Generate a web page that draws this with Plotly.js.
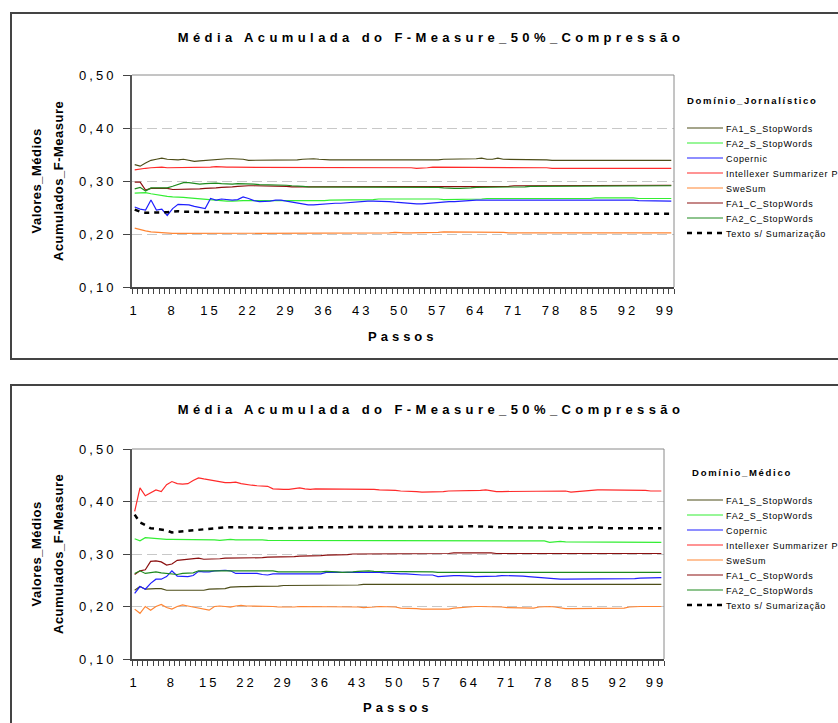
<!DOCTYPE html>
<html><head><meta charset="utf-8">
<script src="https://cdn.plot.ly/plotly-3.0.1.min.js"></script>
<style>
html,body{margin:0;padding:0;background:#fff;width:838px;height:723px;overflow:hidden;position:relative;}
.box{position:absolute;box-sizing:border-box;border:2px solid #444;}
#b1{left:10px;top:12px;width:900px;height:348px;}
#b2{left:10px;top:384px;width:900px;height:420px;}
.chart{position:absolute;left:0;width:838px;}
#c1{top:0;height:360px;}
#c2{top:360px;height:363px;}
.gtitle{letter-spacing:4.4px;}
.xtick text,.ytick text{letter-spacing:3px;}
.legendtext{letter-spacing:0.7px;}
.annotation[data-index="0"] text,.annotation[data-index="1"] text{letter-spacing:0.5px;}
.annotation[data-index="2"] text{letter-spacing:4px;}
.annotation[data-index="3"] text{letter-spacing:1.7px;}
</style></head>
<body>
<div class="box" id="b1"></div>
<div class="box" id="b2"></div>
<div class="chart" id="c1"></div>
<div class="chart" id="c2"></div>
<script>
// ---------- data ----------
const passos = Array.from({length:100},(_,i)=>i+1);
const tickVals = [1,8,15,22,29,36,43,50,57,64,71,78,85,92,99];
const tickText = ['1','8','15','22','29','36','43','50','57','64','71','78','85','92','99'];
const seriesNames = ['FA1_S_StopWords','FA2_S_StopWords','Copernic','Intellexer Summarizer Pro','SweSum','FA1_C_StopWords','FA2_C_StopWords','Texto s/ Sumarização'];
const chartTitle = 'Média Acumulada do F-Measure_50%_Compressão';
const legendTitle1 = 'Domínio_Jornalístico';
const legendTitle2 = 'Domínio_Médico';

// Domínio Jornalístico
const jFA1S = [
0.331,0.328,0.334,0.339,0.341,0.343,0.341,0.340,0.340,0.341,
0.339,0.337,0.338,0.339,0.340,0.341,0.342,0.342,0.342,0.342,
0.341,0.339,0.339,0.339,0.339,0.339,0.340,0.340,0.340,0.340,
0.340,0.341,0.342,0.342,0.341,0.340,0.340,0.340,0.340,0.339,
0.339,0.339,0.340,0.340,0.340,0.340,0.340,0.340,0.339,0.340,
0.340,0.340,0.340,0.340,0.340,0.340,0.340,0.341,0.341,0.341,
0.341,0.341,0.341,0.342,0.343,0.341,0.341,0.343,0.341,0.341,
0.341,0.341,0.341,0.341,0.341,0.341,0.340,0.339,0.339,0.339,
0.339,0.340,0.340,0.340,0.340,0.339,0.339,0.339,0.339,0.339,
0.339,0.339,0.339,0.339,0.339,0.339,0.339,0.339,0.339,0.339];
const jFA2S = [
0.277,0.278,0.278,0.276,0.274,0.273,0.271,0.270,0.270,0.269,
0.268,0.267,0.266,0.265,0.264,0.263,0.263,0.262,0.262,0.263,
0.263,0.263,0.263,0.262,0.262,0.262,0.262,0.262,0.262,0.262,
0.262,0.262,0.262,0.262,0.263,0.263,0.264,0.264,0.264,0.264,
0.265,0.265,0.265,0.265,0.265,0.266,0.266,0.266,0.266,0.266,
0.267,0.267,0.267,0.267,0.267,0.266,0.266,0.265,0.265,0.265,
0.265,0.265,0.265,0.266,0.266,0.267,0.267,0.267,0.267,0.267,
0.267,0.267,0.266,0.266,0.267,0.267,0.267,0.267,0.267,0.267,
0.267,0.267,0.267,0.267,0.267,0.268,0.268,0.268,0.268,0.269,
0.269,0.269,0.268,0.267,0.267,0.267,0.267,0.267,0.267,0.267];
const jCop = [
0.251,0.247,0.245,0.264,0.245,0.247,0.235,0.248,0.256,0.255,
0.255,0.252,0.250,0.248,0.267,0.264,0.266,0.265,0.264,0.265,
0.270,0.267,0.263,0.261,0.261,0.262,0.264,0.264,0.262,0.260,
0.258,0.257,0.255,0.255,0.256,0.257,0.258,0.258,0.258,0.259,
0.260,0.261,0.262,0.262,0.262,0.262,0.261,0.261,0.260,0.259,
0.258,0.258,0.257,0.257,0.258,0.259,0.260,0.261,0.261,0.261,
0.262,0.263,0.264,0.264,0.264,0.264,0.264,0.264,0.264,0.264,
0.264,0.264,0.264,0.264,0.264,0.264,0.264,0.264,0.264,0.264,
0.264,0.264,0.264,0.265,0.265,0.265,0.265,0.264,0.264,0.264,
0.264,0.264,0.264,0.263,0.263,0.262,0.262,0.262,0.262,0.262];
const jInt = [
0.321,0.323,0.324,0.325,0.326,0.326,0.325,0.325,0.326,0.326,
0.326,0.326,0.326,0.326,0.326,0.327,0.326,0.326,0.326,0.326,
0.326,0.326,0.326,0.326,0.326,0.326,0.326,0.326,0.326,0.326,
0.326,0.326,0.326,0.326,0.326,0.326,0.326,0.326,0.326,0.326,
0.326,0.326,0.326,0.326,0.326,0.326,0.326,0.326,0.326,0.326,
0.326,0.325,0.324,0.324,0.325,0.326,0.326,0.326,0.326,0.326,
0.326,0.326,0.326,0.326,0.326,0.326,0.326,0.326,0.326,0.326,
0.326,0.326,0.326,0.326,0.326,0.326,0.325,0.324,0.324,0.324,
0.324,0.324,0.324,0.324,0.324,0.324,0.324,0.324,0.324,0.324,
0.324,0.324,0.324,0.324,0.324,0.324,0.324,0.324,0.324,0.324];
const jSwe = [
0.211,0.208,0.206,0.204,0.203,0.202,0.201,0.201,0.201,0.201,
0.201,0.201,0.201,0.202,0.202,0.202,0.202,0.202,0.202,0.202,
0.201,0.201,0.201,0.201,0.201,0.202,0.202,0.202,0.202,0.202,
0.202,0.202,0.202,0.202,0.202,0.202,0.202,0.202,0.202,0.202,
0.202,0.202,0.202,0.202,0.202,0.202,0.202,0.202,0.203,0.202,
0.202,0.202,0.202,0.202,0.202,0.202,0.203,0.204,0.204,0.204,
0.204,0.203,0.203,0.203,0.203,0.203,0.203,0.204,0.203,0.202,
0.202,0.202,0.202,0.202,0.202,0.202,0.202,0.202,0.202,0.202,
0.202,0.202,0.202,0.202,0.202,0.202,0.202,0.202,0.202,0.202,
0.202,0.202,0.202,0.202,0.202,0.202,0.202,0.202,0.202,0.202];
const jFA1C = [
0.298,0.298,0.283,0.286,0.286,0.286,0.286,0.284,0.284,0.284,
0.285,0.285,0.285,0.286,0.286,0.287,0.288,0.288,0.289,0.290,
0.291,0.291,0.291,0.291,0.290,0.290,0.290,0.290,0.290,0.289,
0.289,0.289,0.289,0.289,0.289,0.289,0.289,0.289,0.289,0.289,
0.289,0.289,0.289,0.289,0.289,0.289,0.289,0.289,0.289,0.289,
0.289,0.289,0.289,0.289,0.289,0.290,0.290,0.290,0.290,0.290,
0.290,0.290,0.290,0.290,0.290,0.290,0.290,0.290,0.290,0.290,
0.291,0.291,0.291,0.291,0.291,0.291,0.291,0.292,0.292,0.292,
0.292,0.292,0.292,0.292,0.292,0.292,0.292,0.292,0.292,0.292,
0.292,0.292,0.292,0.292,0.292,0.292,0.292,0.292,0.292,0.292];
const jFA2C = [
0.285,0.288,0.281,0.287,0.287,0.287,0.287,0.290,0.294,0.297,
0.297,0.295,0.294,0.295,0.296,0.296,0.295,0.294,0.294,0.295,
0.295,0.294,0.294,0.293,0.293,0.293,0.292,0.292,0.292,0.291,
0.291,0.290,0.289,0.289,0.289,0.288,0.288,0.288,0.288,0.288,
0.288,0.288,0.288,0.289,0.289,0.289,0.288,0.288,0.288,0.288,
0.288,0.288,0.288,0.288,0.288,0.288,0.288,0.287,0.286,0.286,
0.286,0.286,0.287,0.288,0.288,0.289,0.289,0.289,0.289,0.289,
0.289,0.289,0.289,0.290,0.290,0.290,0.290,0.290,0.290,0.291,
0.291,0.291,0.291,0.291,0.291,0.291,0.291,0.291,0.291,0.291,
0.291,0.291,0.291,0.291,0.291,0.291,0.291,0.291,0.291,0.291];
const jTxt = [
0.246,0.242,0.240,0.240,0.241,0.241,0.241,0.242,0.243,0.242,
0.242,0.242,0.241,0.241,0.241,0.241,0.241,0.241,0.240,0.240,
0.240,0.240,0.240,0.240,0.240,0.240,0.240,0.240,0.240,0.240,
0.239,0.239,0.239,0.239,0.239,0.239,0.239,0.239,0.239,0.239,
0.239,0.239,0.239,0.239,0.239,0.239,0.239,0.239,0.239,0.239,
0.238,0.238,0.238,0.238,0.238,0.238,0.238,0.238,0.238,0.238,
0.238,0.238,0.238,0.238,0.238,0.238,0.238,0.238,0.238,0.238,
0.238,0.238,0.238,0.238,0.238,0.238,0.238,0.238,0.238,0.238,
0.238,0.238,0.238,0.238,0.238,0.238,0.238,0.238,0.238,0.238,
0.238,0.238,0.238,0.238,0.238,0.238,0.238,0.238,0.238,0.238];

// Domínio Médico
const mFA1S = [
0.231,0.238,0.233,0.234,0.234,0.234,0.231,0.231,0.231,0.231,
0.231,0.231,0.231,0.231,0.233,0.233,0.233,0.234,0.237,0.238,
0.238,0.238,0.238,0.238,0.238,0.238,0.239,0.239,0.240,0.240,
0.240,0.241,0.241,0.241,0.241,0.241,0.241,0.241,0.241,0.241,
0.241,0.241,0.241,0.242,0.242,0.242,0.242,0.242,0.242,0.242,
0.242,0.242,0.242,0.242,0.242,0.242,0.241,0.242,0.242,0.242,
0.242,0.242,0.242,0.241,0.242,0.242,0.242,0.241,0.242,0.242,
0.242,0.242,0.242,0.242,0.242,0.242,0.242,0.242,0.242,0.242,
0.242,0.242,0.242,0.242,0.242,0.242,0.242,0.242,0.242,0.242,
0.242,0.242,0.242,0.242,0.242,0.242,0.242,0.242,0.242,0.242];
const mFA2S = [
0.329,0.325,0.331,0.330,0.329,0.328,0.328,0.328,0.328,0.328,
0.327,0.327,0.327,0.327,0.328,0.327,0.326,0.327,0.328,0.327,
0.327,0.327,0.327,0.328,0.327,0.326,0.326,0.326,0.326,0.326,
0.326,0.326,0.326,0.326,0.326,0.326,0.326,0.326,0.326,0.326,
0.326,0.326,0.326,0.326,0.326,0.326,0.326,0.326,0.326,0.326,
0.325,0.325,0.325,0.325,0.325,0.325,0.325,0.325,0.325,0.325,
0.325,0.325,0.325,0.325,0.325,0.325,0.325,0.325,0.325,0.325,
0.325,0.325,0.325,0.325,0.325,0.325,0.325,0.325,0.322,0.323,
0.324,0.323,0.323,0.323,0.323,0.323,0.323,0.323,0.323,0.323,
0.323,0.323,0.323,0.323,0.323,0.323,0.323,0.322,0.322,0.322];
const mCop = [
0.225,0.238,0.233,0.244,0.252,0.252,0.257,0.268,0.258,0.257,
0.257,0.259,0.267,0.266,0.266,0.268,0.269,0.269,0.268,0.263,
0.263,0.263,0.263,0.263,0.261,0.260,0.262,0.262,0.262,0.263,
0.263,0.263,0.263,0.263,0.262,0.262,0.265,0.265,0.265,0.265,
0.265,0.265,0.266,0.266,0.266,0.266,0.265,0.264,0.263,0.262,
0.262,0.262,0.261,0.260,0.260,0.260,0.260,0.257,0.258,0.259,
0.259,0.259,0.259,0.258,0.257,0.257,0.257,0.257,0.258,0.259,
0.259,0.258,0.258,0.258,0.257,0.256,0.256,0.255,0.253,0.252,
0.252,0.252,0.252,0.253,0.253,0.253,0.253,0.252,0.252,0.252,
0.252,0.252,0.252,0.252,0.253,0.254,0.254,0.254,0.255,0.255];
const mInt = [
0.381,0.426,0.411,0.416,0.422,0.419,0.432,0.438,0.434,0.433,
0.434,0.440,0.445,0.443,0.441,0.439,0.437,0.436,0.436,0.437,
0.434,0.432,0.431,0.430,0.430,0.429,0.424,0.423,0.423,0.423,
0.424,0.426,0.424,0.423,0.424,0.424,0.424,0.424,0.424,0.424,
0.423,0.423,0.423,0.423,0.423,0.423,0.422,0.422,0.422,0.421,
0.420,0.420,0.420,0.419,0.418,0.418,0.418,0.419,0.419,0.420,
0.420,0.420,0.420,0.420,0.420,0.421,0.422,0.420,0.419,0.419,
0.419,0.419,0.419,0.419,0.419,0.419,0.419,0.420,0.420,0.420,
0.420,0.420,0.418,0.419,0.420,0.421,0.421,0.422,0.422,0.422,
0.422,0.422,0.422,0.422,0.422,0.422,0.421,0.420,0.420,0.420];
const mSwe = [
0.195,0.187,0.200,0.193,0.200,0.204,0.198,0.195,0.200,0.203,
0.201,0.199,0.196,0.194,0.193,0.200,0.201,0.200,0.199,0.201,
0.202,0.201,0.201,0.201,0.200,0.200,0.200,0.199,0.199,0.198,
0.199,0.200,0.200,0.199,0.199,0.200,0.200,0.200,0.200,0.199,
0.199,0.199,0.199,0.198,0.198,0.199,0.200,0.200,0.200,0.199,
0.197,0.197,0.197,0.196,0.195,0.195,0.195,0.195,0.195,0.195,
0.197,0.198,0.198,0.199,0.200,0.200,0.200,0.200,0.200,0.199,
0.198,0.198,0.198,0.198,0.197,0.197,0.199,0.200,0.200,0.199,
0.197,0.196,0.196,0.196,0.196,0.196,0.196,0.196,0.196,0.196,
0.196,0.196,0.197,0.199,0.200,0.200,0.200,0.200,0.200,0.200];
const mFA1C = [
0.261,0.268,0.270,0.286,0.287,0.285,0.279,0.281,0.288,0.289,
0.290,0.291,0.292,0.290,0.290,0.290,0.291,0.292,0.292,0.292,
0.292,0.292,0.292,0.293,0.293,0.294,0.294,0.294,0.295,0.295,
0.295,0.296,0.296,0.297,0.297,0.297,0.298,0.298,0.299,0.299,
0.299,0.300,0.300,0.300,0.300,0.300,0.300,0.300,0.301,0.301,
0.301,0.301,0.301,0.301,0.301,0.301,0.301,0.301,0.301,0.301,
0.302,0.302,0.302,0.303,0.303,0.303,0.302,0.302,0.301,0.301,
0.301,0.301,0.301,0.301,0.301,0.301,0.301,0.301,0.301,0.301,
0.301,0.301,0.301,0.301,0.301,0.301,0.301,0.301,0.301,0.301,
0.301,0.301,0.301,0.301,0.301,0.301,0.301,0.301,0.301,0.301];
const mFA2C = [
0.263,0.268,0.263,0.264,0.266,0.264,0.263,0.263,0.261,0.263,
0.264,0.264,0.268,0.268,0.269,0.269,0.269,0.269,0.269,0.269,
0.269,0.269,0.269,0.269,0.269,0.269,0.268,0.266,0.266,0.266,
0.265,0.265,0.265,0.265,0.265,0.266,0.267,0.267,0.266,0.265,
0.265,0.266,0.267,0.268,0.268,0.267,0.267,0.266,0.266,0.266,
0.266,0.266,0.266,0.266,0.267,0.267,0.266,0.265,0.265,0.265,
0.265,0.265,0.265,0.265,0.265,0.265,0.265,0.265,0.265,0.265,
0.265,0.265,0.265,0.265,0.265,0.265,0.265,0.265,0.265,0.265,
0.265,0.265,0.265,0.265,0.265,0.265,0.265,0.265,0.265,0.265,
0.265,0.265,0.265,0.265,0.265,0.265,0.265,0.265,0.265,0.265];
const mTxt = [
0.375,0.360,0.355,0.349,0.348,0.347,0.345,0.341,0.342,0.344,
0.345,0.346,0.347,0.348,0.349,0.350,0.351,0.351,0.351,0.351,
0.351,0.351,0.351,0.351,0.350,0.349,0.349,0.349,0.349,0.349,
0.349,0.349,0.350,0.350,0.351,0.351,0.351,0.351,0.351,0.351,
0.351,0.351,0.351,0.351,0.351,0.351,0.351,0.351,0.351,0.351,
0.351,0.351,0.351,0.351,0.351,0.351,0.351,0.351,0.351,0.351,
0.351,0.352,0.352,0.353,0.353,0.353,0.353,0.352,0.351,0.351,
0.351,0.351,0.351,0.351,0.351,0.351,0.351,0.351,0.351,0.351,
0.350,0.350,0.349,0.349,0.349,0.350,0.351,0.351,0.350,0.349,
0.349,0.349,0.349,0.349,0.349,0.349,0.349,0.349,0.349,0.349];

// ---------- styling ----------
const FONT = 'Liberation Sans, Arial, Helvetica, sans-serif';
const colors = ['#4d4d19','#33ee33','#1f1fff','#ff2a2a','#ff8533','#8b1010','#1f8a1f','#000000'];

function makeTraces(sets){
  return sets.map((ys,i)=>({
    type:'scatter', mode:'lines', x:passos, y:ys, name:seriesNames[i],
    line: i===7 ? {color:colors[i], width:2.5, dash:'5px,5px'} : {color:colors[i], width:1.2},
    hoverinfo:'skip'
  }));
}

function makeLayout(o){
  const plotW = 838 - 132 - o.r;
  const plotH = o.h - o.t - o.b;
  return {
    width:838, height:o.h,
    margin:{l:132, r:o.r, t:o.t, b:o.b, pad:0, autoexpand:false},
    paper_bgcolor:'rgba(0,0,0,0)', plot_bgcolor:'rgba(0,0,0,0)',
    separators:',.',
    font:{family:FONT, color:'#000', size:13},
    title:{text:chartTitle, font:{family:FONT, size:13, weight:'bold', color:'#000'},
      xref:'container', yref:'container', x:431/838, xanchor:'center', y:1-o.titleY/o.h, yanchor:'middle'},
    showlegend:true,
    legend:{x:(682-132)/plotW, xanchor:'left', y:1-(o.legTop-o.t)/plotH, yanchor:'top',
      font:{family:FONT, size:9, color:'#000'}, bgcolor:'rgba(0,0,0,0)', borderwidth:0,
      traceorder:'normal', tracegroupgap:0, itemclick:false, itemdoubleclick:false},
    xaxis:{range:[0.5,100.5], tickmode:'array', tickvals:tickVals, ticktext:tickText, ticks:'',
      showgrid:false, zeroline:false, showline:true, linecolor:'#444', linewidth:1.5,
      tickfont:{family:FONT, size:13, color:'#000'}, ticklabelstandoff:11, automargin:false, fixedrange:true,
      minor:{tickmode:'linear', tick0:0.5, dtick:1, ticks:'outside', ticklen:5, tickcolor:'#444', tickwidth:1, showgrid:false}},
    yaxis:{range:[0.1,0.5], tickmode:'array', tickvals:[0.1,0.2,0.3,0.4,0.5], tickformat:'.2f',
      ticks:'outside', ticklen:7, tickcolor:'#444', tickwidth:1,
      showline:true, linecolor:'#555', linewidth:2, zeroline:false,
      showgrid:true, gridcolor:'#c8c8c8', gridwidth:1, griddash:'10px,5px',
      tickfont:{family:FONT, size:13, color:'#000'}, ticklabelstandoff:4, automargin:false, fixedrange:true},
    shapes:[
      {type:'line', xref:'paper', yref:'paper', x0:0, x1:1, y0:1, y1:1, line:{color:'#8a8a8a', width:1}},
      {type:'line', xref:'paper', yref:'paper', x0:1, x1:1, y0:0, y1:1, line:{color:'#8a8a8a', width:1}}
    ],
    annotations:[
      {text:'Valores_Médios', xref:'paper', yref:'paper', x:0, y:0.5, xshift:36-132, xanchor:'center', yanchor:'middle',
        textangle:-90, showarrow:false, font:{family:FONT, size:13, weight:'bold', color:'#000'}},
      {text:'Acumulados_F-Measure', xref:'paper', yref:'paper', x:0, y:0.5, xshift:58-132, xanchor:'center', yanchor:'middle',
        textangle:-90, showarrow:false, font:{family:FONT, size:13, weight:'bold', color:'#000'}},
      {text:'Passos', xref:'paper', yref:'paper', x:0.5, y:0, yshift:-o.passosDy, xanchor:'center', yanchor:'middle',
        showarrow:false, font:{family:FONT, size:13, weight:'bold', color:'#000'}},
      {text:o.legTitle, xref:'paper', yref:'paper', x:1, y:1, xshift:702-(838-o.r), yshift:-o.legTitleDy, xanchor:'left', yanchor:'middle',
        showarrow:false, font:{family:FONT, size:9.5, weight:'bold', color:'#000'}}
    ]
  };
}

function fixLegend(gd, targetX, targetY, step){
  gd.querySelectorAll('.legend [clip-path]').forEach(e=>e.removeAttribute('clip-path'));
  const items = gd.querySelectorAll('.legend .traces');
  if(!items.length) return;
  const gr = gd.getBoundingClientRect();
  const first = items[0];
  const line = first.querySelector('.js-line') || first.querySelector('path');
  const lr = line.getBoundingClientRect();
  const dx = targetX - (lr.left - gr.left);
  const dy = targetY - ((lr.top + lr.bottom)/2 - gr.top);
  const parse = el => {
    const m = /translate\(\s*([-\d.e]+)[\s,]+([-\d.e]+)/.exec(el.getAttribute('transform') || '');
    return m ? [parseFloat(m[1]), parseFloat(m[2])] : [0,0];
  };
  const p0 = parse(first);
  items.forEach((it,i)=>{
    it.setAttribute('transform', 'translate(' + (p0[0]+dx) + ',' + (p0[1]+dy+i*step) + ')');
    it.querySelectorAll('.js-line').forEach(p=>p.setAttribute('d','M5,0h36'));
    const t = it.querySelector('.legendtext');
    if(t){ const x = parseFloat(t.getAttribute('x')||'40'); t.setAttribute('x', x+4); }
  });
}

const cfg = {staticPlot:true, displayModeBar:false};

const L1 = makeLayout({h:360, t:75, b:73, r:164, titleY:37, legTop:118, passosDy:49, legTitle:legendTitle1, legTitleDy:25});
const L2 = makeLayout({h:363, t:89, b:64, r:174, titleY:49, legTop:130, passosDy:48, legTitle:legendTitle2, legTitleDy:23});

Plotly.newPlot('c1', makeTraces([jFA1S,jFA2S,jCop,jInt,jSwe,jFA1C,jFA2C,jTxt]), L1, cfg)
  .then(gd => fixLegend(gd, 687, 128, 15));
Plotly.newPlot('c2', makeTraces([mFA1S,mFA2S,mCop,mInt,mSwe,mFA1C,mFA2C,mTxt]), L2, cfg)
  .then(gd => fixLegend(gd, 687, 140, 15));
</script>
</body></html>
